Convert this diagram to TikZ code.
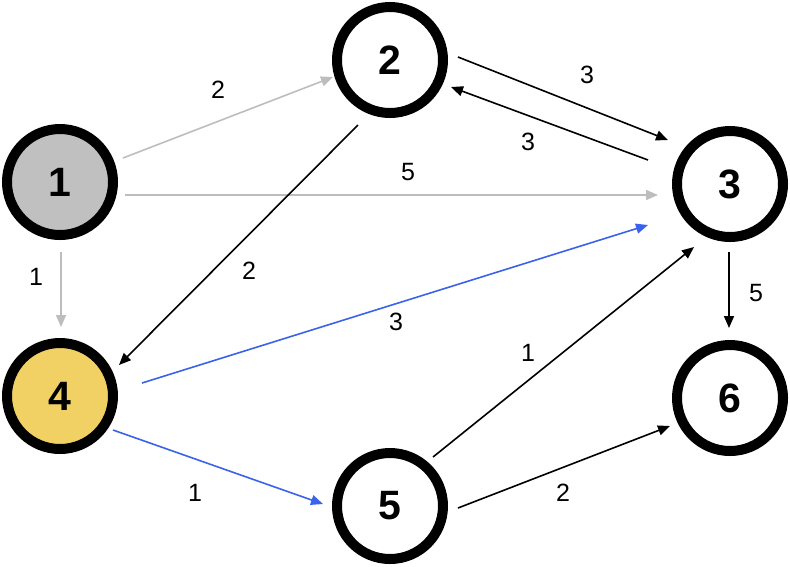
\documentclass[tikz,border=0pt]{standalone}
\usepackage{fontspec}
\setmainfont{Liberation Sans}
\usetikzlibrary{arrows.meta,calc}
\definecolor{edgegray}{HTML}{BDBDBD}
\definecolor{edgeblue}{HTML}{3A62EA}
\definecolor{fillgray}{HTML}{C0C0C0}
\definecolor{fillyellow}{HTML}{F1D064}
\tikzset{
  vert/.style={circle, draw=black, line width=10pt, minimum size=106pt, inner sep=0pt, outer sep=0pt, fill=white, font=\fontsize{41}{41}\selectfont\bfseries},
  conn/.style={line width=1.6pt, -{Triangle[length=12pt,width=10pt]}},
  blk/.style={conn, draw=black},
  gry/.style={conn, draw=edgegray},
  blu/.style={conn, draw=edgeblue},
  wlabel/.style={font=\fontsize{25}{25}\selectfont, inner sep=0pt}
}
\begin{document}
\begin{tikzpicture}[x=1pt,y=-1pt]
\useasboundingbox (0,0) rectangle (790,566);
\node[vert, fill=fillgray] (n1) at (60,182) {1};
\node[vert] (n2) at (390,60) {2};
\node[vert] (n3) at (730,184) {3};
\node[vert, fill=fillyellow] (n4) at (60,396) {4};
\node[vert] (n5) at (390,506) {5};
\node[vert] (n6) at (730,398) {6};

\draw[gry] ($(n1)+(63,-24)$) -- ($(n2)+(-57,17)$);
\draw[gry] ($(n1)+(65,13)$) -- ($(n3)+(-72,11)$);
\draw[gry] ($(n1)+(1,70)$) -- ($(n4)+(1,-69)$);
\draw[blk] ($(n2)+(68,-3)$) -- ($(n3)+(-62,-44)$);
\draw[blk] ($(n3)+(-82,-24)$) -- ($(n2)+(61,27)$);
\draw[blk] ($(n2)+(-32,65)$) -- ($(n4)+(59,-31)$);
\draw[blu] ($(n4)+(82,-13)$) -- ($(n3)+(-82,41)$);
\draw[blu] ($(n4)+(53,34)$) -- ($(n5)+(-67,-2)$);
\draw[blk] ($(n5)+(43,-49)$) -- ($(n3)+(-36,63)$);
\draw[blk] ($(n5)+(68,2)$) -- ($(n6)+(-60,28)$);
\draw[blk] ($(n3)+(-1,68)$) -- ($(n6)+(-1,-70)$);

\node[wlabel] (l12) at (218,90) {2};
\node[wlabel] (l13) at (408,172) {5};
\node[wlabel] (l14) at (36,277) {1};
\node[wlabel] (l23) at (587,75) {3};
\node[wlabel] (l32) at (528,142) {3};
\node[wlabel] (l24) at (249,271) {2};
\node[wlabel] (l43) at (396,322) {3};
\node[wlabel] (l45) at (195,493) {1};
\node[wlabel] (l53) at (528,353) {1};
\node[wlabel] (l56) at (563,493) {2};
\node[wlabel] (l36) at (756,293) {5};
\end{tikzpicture}
\end{document}
